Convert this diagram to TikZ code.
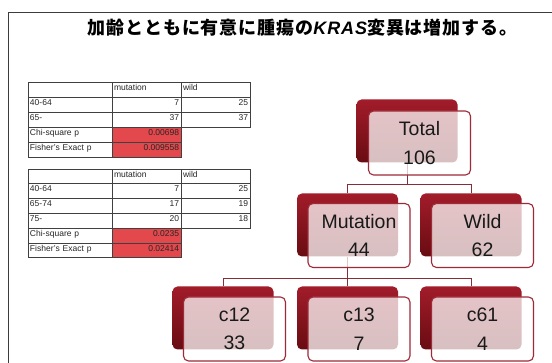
\documentclass[tikz,border=0pt]{standalone}
\usepackage{fontspec}
\setmainfont{Liberation Sans}
\newfontfamily\cjk{Noto Sans CJK JP}[LetterSpace=5]
\newfontfamily\kras{Liberation Sans}[LetterSpace=5]
\usetikzlibrary{calc}
\definecolor{backtop}{RGB}{162,28,42}
\definecolor{backbot}{RGB}{104,12,18}
\definecolor{frontred}{RGB}{158,42,56}
\definecolor{linkred}{RGB}{135,45,55}
\definecolor{cellred}{RGB}{226,72,76}
\definecolor{framecol}{RGB}{60,60,60}
\tikzset{
  backbox/.style={rounded corners=5pt, minimum width=101pt, minimum height=63pt, inner sep=0pt,
    top color=backtop, bottom color=backbot, draw=none},
  frontbox/.style={rounded corners=5pt, minimum width=102pt, minimum height=64pt, inner sep=0pt,
    draw=frontred, line width=1.1pt, fill=white, fill opacity=0.74, text opacity=1,
    align=center, font=\fontsize{19.5}{28.5}\selectfont, text=black!90},
  link/.style={draw=linkred, line width=0.9pt},
  cell/.style={draw=black!75, line width=0.9pt, inner xsep=2pt, inner ysep=0pt,
    text height=4.8pt, text depth=3.2pt,
    font=\fontsize{8.5}{10}\selectfont, text=black!85},
  ca/.style={cell, text width=80pt, align=left},
  cbl/.style={cell, text width=65pt, align=left},
  cbr/.style={cell, text width=65pt, align=right},
  ccl/.style={cell, text width=65pt, align=left},
  ccr/.style={cell, text width=65pt, align=right},
  redc/.style={fill=cellred},
  rowa/.style={minimum height=15pt},
  rowb/.style={minimum height=14.8pt},
}
\begin{document}
\begin{tikzpicture}[x=1pt,y=-1pt]
\useasboundingbox[fill=white] (0,0) rectangle (552,363);
% slide frame
\draw[framecol, line width=1pt] (8,363) -- (8,12.5) -- (552,12.5);
% title
\node[font=\fontsize{18}{22}\selectfont, inner sep=0pt] (title) at (302.5,27.5)
  {\cjk\bfseries 加齢とともに有意に腫瘍の{\kras\bfseries\itshape KRAS}変異は増加する。};

% table 1
\begin{scope}[every node/.append style={rowa}]
\node[ca]  (t1a0) at (70,89.5) {};
\node[cbl] (t1b0) at (146.5,89.5) {mutation};
\node[ccl] (t1c0) at (215.5,89.5) {wild};
\node[ca]  (t1a1) at (70,104.5) {40-64};
\node[cbr] (t1b1) at (146.5,104.5) {7};
\node[ccr] (t1c1) at (215.5,104.5) {25};
\node[ca]  (t1a2) at (70,119.5) {65-};
\node[cbr] (t1b2) at (146.5,119.5) {37};
\node[ccr] (t1c2) at (215.5,119.5) {37};
\node[ca]  (t1a3) at (70,134.5) {Chi-square p};
\node[cbr,redc] (t1b3) at (146.5,134.5) {0.00698};
\node[ca]  (t1a4) at (70,149.5) {Fisher's Exact p};
\node[cbr,redc] (t1b4) at (146.5,149.5) {0.009558};
\end{scope}

% table 2
\begin{scope}[every node/.append style={rowb}]
\node[ca]  (t2a0) at (70,176.4) {};
\node[cbl] (t2b0) at (146.5,176.4) {mutation};
\node[ccl] (t2c0) at (215.5,176.4) {wild};
\node[ca]  (t2a1) at (70,191.2) {40-64};
\node[cbr] (t2b1) at (146.5,191.2) {7};
\node[ccr] (t2c1) at (215.5,191.2) {25};
\node[ca]  (t2a2) at (70,206) {65-74};
\node[cbr] (t2b2) at (146.5,206) {17};
\node[ccr] (t2c2) at (215.5,206) {19};
\node[ca]  (t2a3) at (70,220.8) {75-};
\node[cbr] (t2b3) at (146.5,220.8) {20};
\node[ccr] (t2c3) at (215.5,220.8) {18};
\node[ca]  (t2a4) at (70,235.6) {Chi-square p};
\node[cbr,redc] (t2b4) at (146.5,235.6) {0.0235};
\node[ca]  (t2a5) at (70,250.4) {Fisher's Exact p};
\node[cbr,redc] (t2b5) at (146.5,250.4) {0.02414};
\end{scope}

% tree: back boxes
\node[backbox] (totB)  at (407,131) {};
\node[backbox] (mutB)  at (347.5,225) {};
\node[backbox] (wildB) at (471,225) {};
\node[backbox] (c12B)  at (223,318) {};
\node[backbox] (c13B)  at (347.5,318) {};
\node[backbox] (c61B)  at (471,318) {};

% connectors
\coordinate (bus1) at (0,184);
\coordinate (bus2) at (0,278);
\draw[link] (totB.south) -- (totB.south |- bus1) -| (mutB.north);
\draw[link] (totB.south |- bus1) -| (wildB.north);
\draw[link] (mutB.south) -- (mutB.south |- bus2) -| (c12B.north);
\draw[link] (mutB.south |- bus2) -- (c13B.north);
\draw[link] (mutB.south |- bus2) -| (c61B.north);

% tree: front boxes
\node[frontbox] (totF)  at (419.5,143) {Total\\106};
\node[frontbox] (mutF)  at (359,235.5) {Mutation\\44};
\node[frontbox] (wildF) at (482.5,235.5) {Wild\\62};
\node[frontbox] (c12F)  at (234.5,329) {c12\\33};
\node[frontbox] (c13F)  at (359,329) {c13\\7};
\node[frontbox] (c61F)  at (482.5,329) {c61\\4};
\end{tikzpicture}
\end{document}
